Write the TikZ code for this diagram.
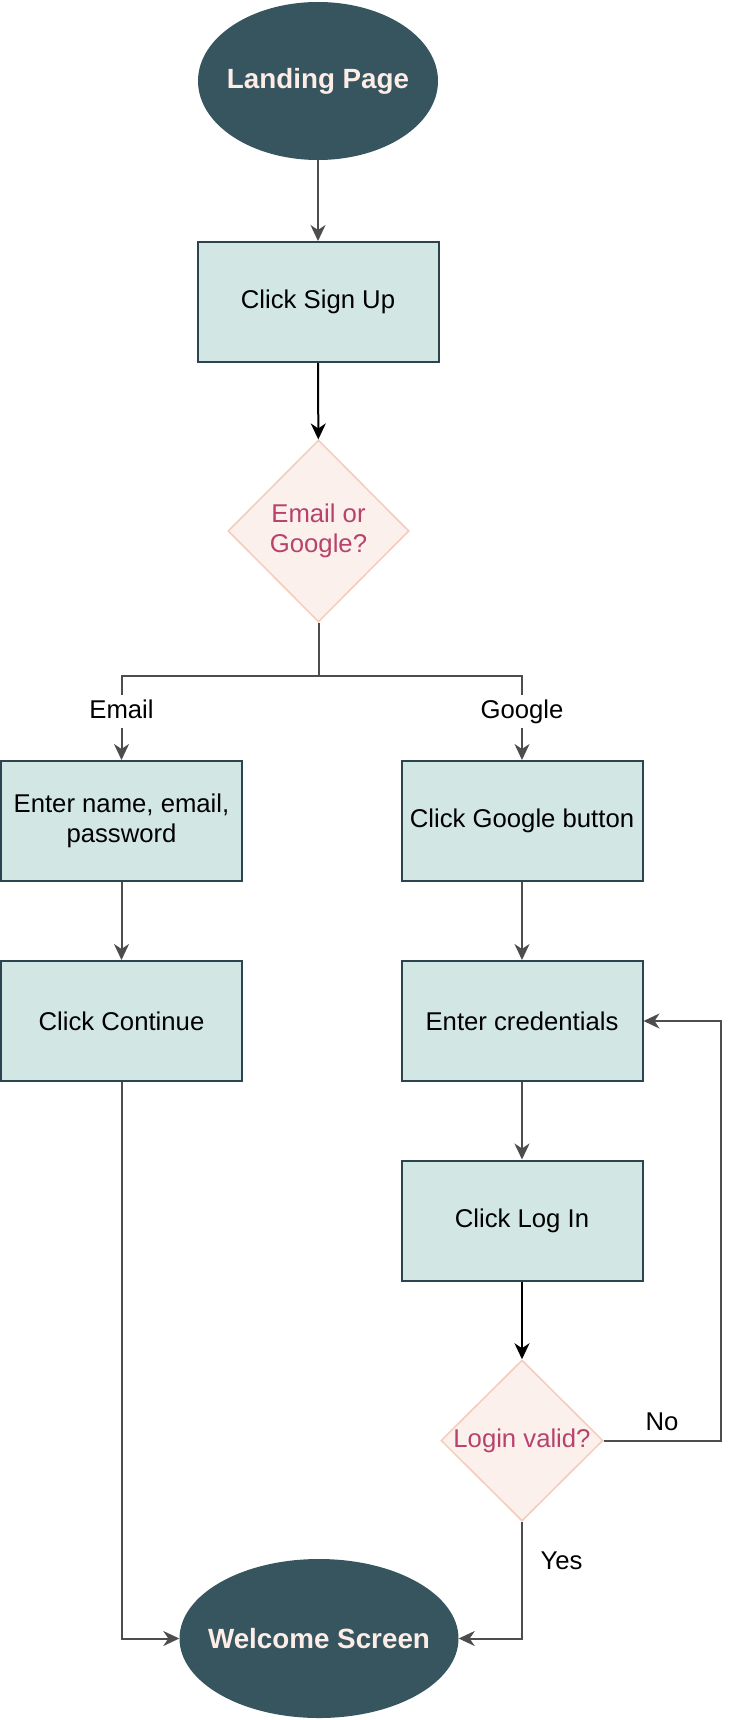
\documentclass[tikz,border=0pt]{standalone}
\usepackage{fontspec}
\setmainfont{Liberation Sans}
\usetikzlibrary{shapes.geometric,arrows.meta}
\definecolor{dark}{HTML}{36555F}
\definecolor{cream}{HTML}{FDEDE6}
\definecolor{boxfill}{HTML}{D2E7E4}
\definecolor{boxline}{HTML}{2B4450}
\definecolor{decfill}{HTML}{FBF0EC}
\definecolor{decline}{HTML}{F5CBBB}
\definecolor{dectext}{HTML}{B8426C}
\definecolor{wire}{HTML}{4D4D4D}
\begin{document}
\begin{tikzpicture}[x=1pt,y=-1pt,
  term/.style={ellipse, fill=dark, draw=none, inner sep=0pt, text=cream,
    font=\fontsize{27.8}{32}\selectfont\bfseries},
  box/.style={rectangle, fill=boxfill, draw=boxline, line width=2pt,
    minimum width=241pt, minimum height=120pt, inner sep=0pt, align=center,
    font=\fontsize{25.7}{29.5}\selectfont},
  dec/.style={diamond, fill=decfill, draw=decline, line width=1.5pt, inner sep=0pt,
    text=dectext, align=center, font=\fontsize{25.7}{29.5}\selectfont},
  lbl/.style={fill=white, inner sep=4pt, text height=19pt, text depth=5.5pt,
    font=\fontsize{25.7}{29.5}\selectfont},
  plain/.style={inner sep=0pt, text height=19pt, text depth=5.5pt,
    font=\fontsize{25.7}{29.5}\selectfont},
  tip/.style={-{Stealth[length=16pt,width=15pt,inset=5pt]}},
  arr/.style={draw=wire, line width=2pt, tip},
  barr/.style={draw=black, line width=2pt, tip}]
\fill[white] (0,0) rectangle (740,1720);
\useasboundingbox (0,0) rectangle (740,1720);

\node[term, minimum width=240pt, minimum height=158pt] (land) at (318,81) {\makebox[120pt][c]{Landing Page}};
\node[box] (signup) at (318,302) {Click Sign Up};
\node[dec, minimum width=181pt, minimum height=182pt] (dec1) at (318.5,531) {Email or\\Google?};
\node[box] (enter) at (121.5,821) {Enter name, email,\\password};
\node[box] (google) at (522,821) {Click Google button};
\node[box] (cont) at (121.5,1021) {Click Continue};
\node[box] (cred) at (522,1021) {Enter credentials};
\node[box] (login) at (522,1220.5) {Click Log In};
\node[dec, minimum width=162pt, minimum height=161pt] (dec2) at (522,1440.5) {\makebox[100pt][c]{Login valid?}};
\node[term, minimum width=279pt, minimum height=159pt] (welc) at (319,1638.5) {\makebox[140pt][c]{Welcome Screen}};

\coordinate (brL) at (121.5,676);
\coordinate (brR) at (522,676);
\coordinate (loop) at (721,1440.5);

\draw[arr] (land) -- (signup);
\draw[barr] (signup) -- (dec1);
\draw[arr] (dec1.south) |- (brL) -- node[lbl, pos=0.42] {Email} (enter.north);
\draw[arr] (dec1.south) |- (brR) -- node[lbl, pos=0.42] {Google} (google.north);
\draw[arr] (enter) -- (cont);
\draw[arr] (google) -- (cred);
\draw[arr] (cred) -- (login);
\draw[barr] (login) -- (dec2);
\draw[arr] (dec2.east) -- (loop) |- (cred.east);
\draw[arr] (dec2.south) |- (welc.east);
\draw[arr] (cont.south) |- (welc.west);

\node[plain] (no) at (662,1424) {No};
\node[plain] (yes) at (561.6,1563) {Yes};
\end{tikzpicture}
\end{document}
